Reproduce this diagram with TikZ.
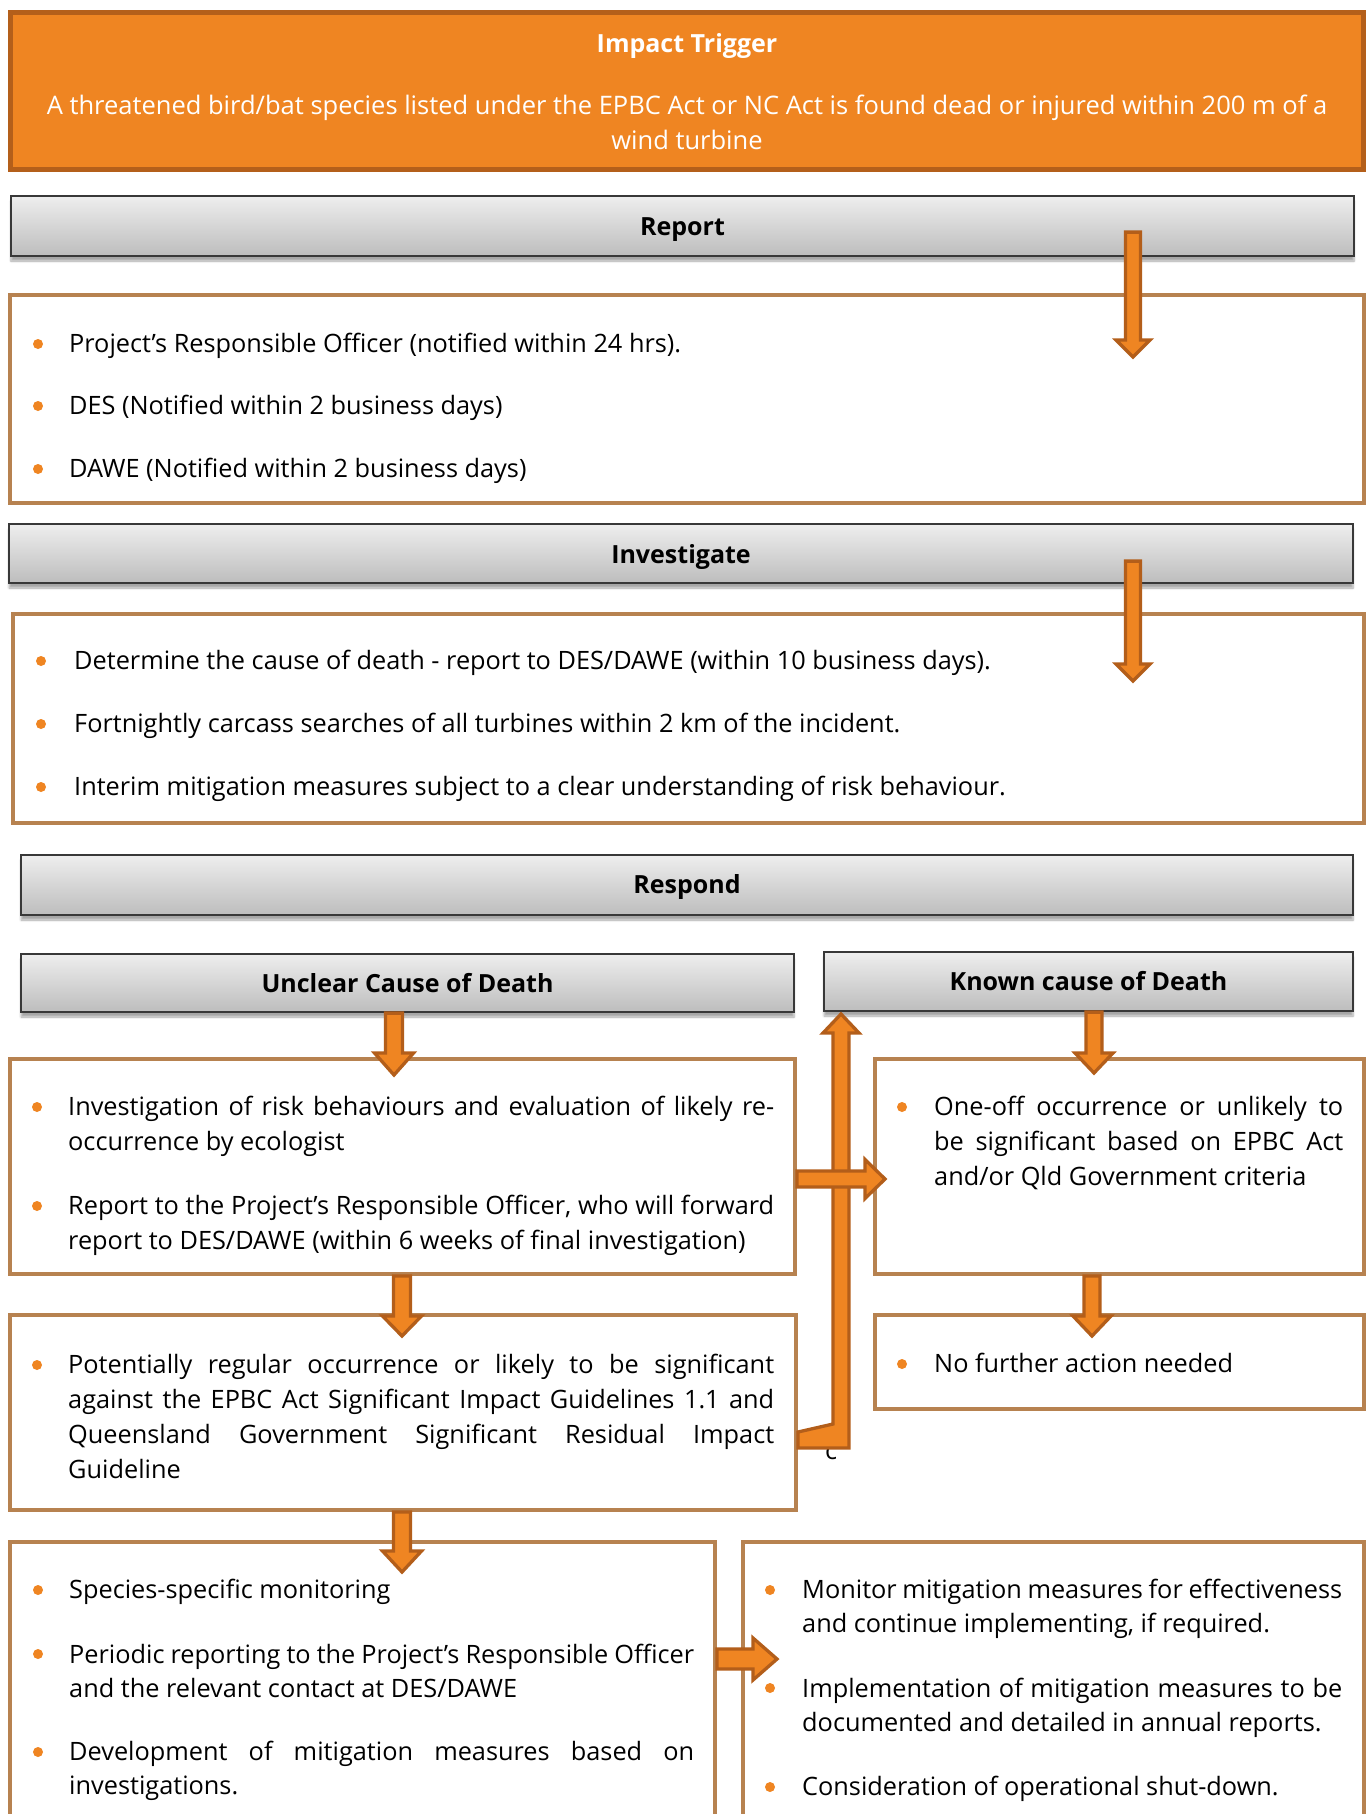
\documentclass[tikz,border=0pt]{standalone}
\usepackage{fontspec}
\setmainfont{Open Sans}
\usetikzlibrary{calc,fit,shadows.blur}
\definecolor{ofill}{HTML}{EF8522}
\definecolor{odark}{HTML}{B45F1A}
\definecolor{boxbrown}{HTML}{B78250}
\definecolor{adark}{HTML}{B35E1A}
\definecolor{bartop}{HTML}{EEEEEE}
\definecolor{barbot}{HTML}{BDBDBD}
\definecolor{barline}{HTML}{383838}

\newcommand\blockarrow[5]{%
  \coordinate (ba-s) at #1;
  \coordinate (ba-e) at #2;
  \coordinate (ba-h) at ($(ba-e)!#5pt!(ba-s)$);
  \filldraw[blockarr]
    ($(ba-s)!#3pt!90:(ba-e)$) -- ($(ba-h)!#3pt!90:(ba-e)$) --
    ($(ba-h)!#4pt!90:(ba-e)$) -- (ba-e) --
    ($(ba-h)!#4pt!-90:(ba-e)$) -- ($(ba-h)!#3pt!-90:(ba-e)$) --
    ($(ba-s)!#3pt!-90:(ba-e)$) -- cycle;}

\tikzset{
  body/.style={font=\fontsize{25.3}{35}\selectfont, inner sep=0pt, anchor=base west, text=black},
  jbody/.style={body, align=justify, text width=#1},
  bul/.style={circle, fill=ofill, inner sep=0pt, minimum size=10pt},
  hdr/.style={font=\fontsize{25}{30}\selectfont\bfseries, inner sep=0pt, anchor=base, text=black},
  bar/.style={draw=barline, line width=2.2pt, top color=bartop, bottom color=barbot, inner sep=0pt,
    blur shadow={shadow xshift=0pt, shadow yshift=-5pt, shadow blur steps=6, shadow opacity=35}},
  wbox/.style={draw=boxbrown, line width=4pt, fill=white, inner sep=0pt},
  obox/.style={draw=odark, line width=5pt, fill=ofill, inner sep=0pt},
  blockarr/.style={fill=ofill, draw=adark, line width=3.3pt, line join=miter},
}

\begin{document}
\begin{tikzpicture}[x=1pt,y=-1pt]
\useasboundingbox (0,0) rectangle (1371,1814);
\clip (0,0) rectangle (1371,1814);

% ---- boxes and bars ----
\node[obox, fit={(10.5,12.5) (1363.5,169.5)}] (trigger) {};
\node[bar, fit={(11,196) (1354,256)}] (reportbar) {};
\node[wbox, fit={(10,295) (1364,503)}] (reportbox) {};
\node[bar, fit={(9,524) (1353,583)}] (invbar) {};
\node[wbox, fit={(13,614) (1364,823)}] (invbox) {};
\node[bar, fit={(21,855) (1353,915)}] (respbar) {};
\node[bar, fit={(21,954) (794,1012)}] (unclearbar) {};
\node[bar, fit={(824,952) (1353,1011)}] (knownbar) {};
\node[wbox, fit={(10,1059) (795,1274)}] (ubox1) {};
\node[wbox, fit={(10,1315) (796,1510)}] (ubox2) {};
\node[wbox, fit={(875,1059) (1364,1274)}] (kbox1) {};
\node[wbox, fit={(875,1315) (1364,1409)}] (kbox2) {};
\node[wbox, fit={(10,1542) (715,1840)}] (blbox) {};
\node[wbox, fit={(743,1542) (1364,1840)}] (brbox) {};

% ---- stray character under the elbow connector ----
\node[body] (strayc) at (825,1459) {c};

% ---- block arrows ----
\coordinate (xr) at (1133,0);
\blockarrow{($(reportbar.south -| xr)+(0,-25)$)}{($(reportbox.north -| xr)+(0,64)$)}{7.5}{17}{17}
\blockarrow{($(invbar.south -| xr)+(0,-23)$)}{($(invbox.north -| xr)+(0,69)$)}{7.5}{17}{17}
\coordinate (xu1) at (394,0);
\blockarrow{(unclearbar.south -| xu1)}{($(ubox1.north -| xu1)+(0,18)$)}{8.5}{19.5}{22}
\coordinate (xu2) at (402,0);
\blockarrow{(ubox1.south -| xu2)}{($(ubox2.north -| xu2)+(0,23)$)}{8.5}{19.5}{20}
\blockarrow{(ubox2.south -| xu2)}{($(blbox.north -| xu2)+(0,32)$)}{8.5}{19.5}{21}
\coordinate (xk1) at (1094,0);
\blockarrow{(knownbar.south -| xk1)}{($(kbox1.north -| xk1)+(0,16)$)}{8}{19}{20}
\coordinate (xk2) at (1092,0);
\blockarrow{(kbox1.south -| xk2)}{($(kbox2.north -| xk2)+(0,23)$)}{8}{19}{20}

% elbow connector: Unclear box 2 -> Known cause of Death
\coordinate (elbowtip) at (841,1014);
\coordinate (elbowy) at (0,1440);
\filldraw[blockarr]
  ($(ubox2.east |- elbowy)+(0,-8)$) -- ($(elbowtip)+(-8,1432-8-1014)$) --
  ($(elbowtip)+(-8,19)$) -- ($(elbowtip)+(-18,19)$) -- (elbowtip) --
  ($(elbowtip)+(18,19)$) -- ($(elbowtip)+(8,19)$) -- ($(elbowtip)+(8,1448-1014)$) --
  ($(ubox2.east |- elbowy)+(0,8)$) -- cycle;

\coordinate (yh1) at (0,1179);
\blockarrow{(ubox1.east |- yh1)}{($(kbox1.west |- yh1)+(12,0)$)}{8}{19.5}{20}
\coordinate (yh2) at (0,1659);
\blockarrow{(blbox.east |- yh2)}{($(brbox.west |- yh2)+(36,0)$)}{10}{21}{24}

% ---- texts ----
\node[hdr, text=white] (t-title) at (687,53) {Impact Trigger};
\node[body, anchor=base, text=white, font=\fontsize{25.5}{35}\selectfont] (t-l1) at (687,115) {A threatened bird/bat species listed under the EPBC Act or NC Act is found dead or injured within 200 m of a};
\node[body, anchor=base, text=white, font=\fontsize{25.5}{35}\selectfont] (t-l2) at (687,150) {wind turbine};

\node[hdr] (h-report) at (682.5,235) {Report};
\node[hdr] (h-inv) at (681,563) {Investigate};
\node[hdr] (h-resp) at (687,893) {Respond};
\node[hdr] (h-unclear) at (407.5,992) {Unclear Cause of Death};
\node[hdr] (h-known) at (1088.5,990) {Known cause of Death};

% Report box
\node[bul] (rb1) at (38,344) {};
\node[body] (r1) at (69,352) {Project’s Responsible Officer (notified within 24 hrs).};
\node[bul] (rb2) at (38,406) {};
\node[body] (r2) at (69,414) {DES (Notified within 2 business days)};
\node[bul] (rb3) at (38,469) {};
\node[body] (r3) at (69,477) {DAWE (Notified within 2 business days)};

% Investigate box
\node[bul] (ib1) at (41,661) {};
\node[body] (i1) at (74,669) {Determine the cause of death - report to DES/DAWE (within 10 business days).};
\node[bul] (ib2) at (41,724) {};
\node[body] (i2) at (74,732) {Fortnightly carcass searches of all turbines within 2 km of the incident.};
\node[bul] (ib3) at (41,787) {};
\node[body] (i3) at (74,795) {Interim mitigation measures subject to a clear understanding of risk behaviour.};

% Unclear box 1
\node[bul] (u1b1) at (37,1107) {};
\node[jbody=706pt] (u1a) at (68,1115) {Investigation of risk behaviours and evaluation of likely re-\linebreak occurrence by ecologist};
\node[bul] (u1b2) at (37,1206) {};
\node[jbody=706pt] (u1b) at (68,1214) {Report to the Project’s Responsible Officer, who will forward\linebreak report to DES/DAWE (within 6 weeks of final investigation)};

% Unclear box 2
\node[bul] (u2b1) at (37,1365) {};
\node[jbody=706pt] (u2a) at (68,1373) {Potentially regular occurrence or likely to be significant\linebreak against the EPBC Act Significant Impact Guidelines 1.1 and\linebreak Queensland Government Significant Residual Impact\linebreak Guideline};

% Known box 1
\node[bul] (k1b1) at (902,1107) {};
\node[jbody=409pt] (k1a) at (934,1115) {One-off occurrence or unlikely to\linebreak be significant based on EPBC Act\linebreak and/or Qld Government criteria};

% Known box 2
\node[bul] (k2b1) at (902,1364) {};
\node[body] (k2a) at (934,1372) {No further action needed};

% Bottom-left box
\node[bul] (blb1) at (38,1590) {};
\node[body] (bl1) at (69,1598) {Species-specific monitoring};
\node[bul] (blb2) at (38,1654) {};
\node[jbody=625pt, font=\fontsize{25.3}{34}\selectfont] (bl2) at (69,1663) {Periodic reporting to the Project’s Responsible Officer\linebreak and the relevant contact at DES/DAWE};
\node[bul] (blb3) at (38,1752) {};
\node[jbody=625pt, font=\fontsize{25.3}{34}\selectfont] (bl3) at (69,1760) {Development of mitigation measures based on\linebreak investigations.};

% Bottom-right box
\node[bul] (brb1) at (770,1590) {};
\node[jbody=540pt, font=\fontsize{25.3}{34}\selectfont] (br1) at (802,1598) {Monitor mitigation measures for effectiveness\linebreak and continue implementing, if required.};
\node[bul] (brb2) at (770,1688) {};
\node[jbody=540pt, font=\fontsize{25.3}{34}\selectfont] (br2) at (802,1697) {Implementation of mitigation measures to be\linebreak documented and detailed in annual reports.};
\node[bul] (brb3) at (770,1787) {};
\node[body] (br3) at (802,1795) {Consideration of operational shut-down.};
\end{tikzpicture}
\end{document}
